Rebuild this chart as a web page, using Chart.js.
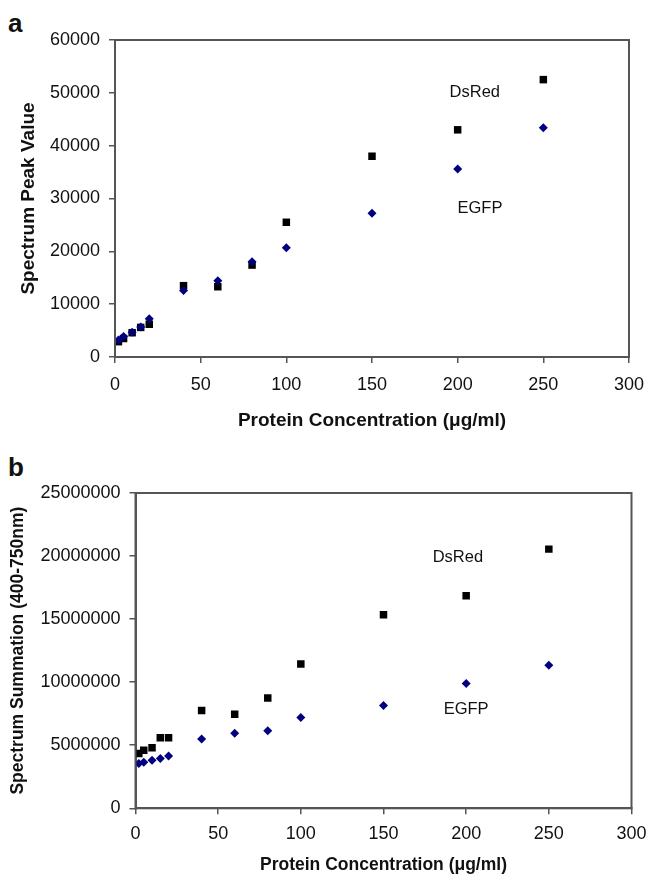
<!DOCTYPE html>
<html>
<head>
<meta charset="utf-8">
<script src="https://cdn.jsdelivr.net/npm/chart.js@4.4.0/dist/chart.umd.min.js"></script>
<style>
  body { margin: 0; background: #fff; width: 648px; height: 876px; position: relative; overflow: hidden; }
  canvas { position: absolute; left: 0; }
  #chartA { top: 0; }
  #chartB { top: 438px; }
  .panel { position: absolute; font: bold 26px "Liberation Sans", Arial, sans-serif; color: #111; }
</style>
</head>
<body>
<div class="panel" style="left:8px; top:8px;">a</div>
<div class="panel" style="left:8px; top:452px;">b</div>
<canvas id="chartA" width="648" height="438"></canvas>
<canvas id="chartB" width="648" height="438"></canvas>
<script>
// protein concentration (ug/ml)
const conc = [2, 5, 10, 15, 20, 40, 60, 80, 100, 150, 200, 250]

// panel a - spectrum peak value
const peakDsRed = [2900, 3500, 4600, 5600, 6200, 13500, 13300, 17400, 25500, 38000, 43000, 52500]
const peakEGFP = [3200, 3900, 4700, 5700, 7250, 12600, 14450, 18050, 20700, 27200, 35600, 43400]

// panel b - spectrum summation 400-750nm
const sumDsRed = [4350000, 4600000, 4800000, 5600000, 5600000, 7750000, 7450000, 8750000, 11450000, 15350000, 16850000, 20550000]
const sumEGFP = [3550000, 3650000, 3800000, 3950000, 4150000, 5500000, 5950000, 6150000, 7200000, 8150000, 9900000, 11350000]

const xTicks = [0, 50, 100, 150, 200, 250, 300]
const peakTicks = [0, 10000, 20000, 30000, 40000, 50000, 60000]
const sumTicks = [0, 5000000, 10000000, 15000000, 20000000, 25000000]

const labelsA = [{ text: 'DsRed', x: 210, y: 50000 }, { text: 'EGFP', x: 213, y: 28200 }]
const labelsB = [{ text: 'DsRed', x: 195, y: 19900000 }, { text: 'EGFP', x: 200, y: 7800000 }]

const FONT = '"Liberation Sans", Arial, sans-serif'
const AXIS = '#555'

function toPoints (xs, ys) {
  return xs.map((x, i) => ({ x: x, y: ys[i] }))
}

// box around the plot area + text labels placed by data coords
const framePlugin = {
  id: 'frame',
  afterDraw (chart, args, opts) {
    const { ctx, chartArea: a, scales } = chart
    ctx.save()
    ctx.strokeStyle = AXIS
    ctx.lineWidth = 2
    ctx.strokeRect(a.left, a.top, a.right - a.left, a.bottom - a.top)
    ctx.fillStyle = '#111'
    ctx.font = '16.5px ' + FONT
    ctx.textAlign = 'center'
    ctx.textBaseline = 'middle'
    opts.labels.forEach(l => {
      ctx.fillText(l.text, scales.x.getPixelForValue(l.x), scales.y.getPixelForValue(l.y))
    })
    ctx.restore()
  }
}

// no label overflow padding, the layout padding decides the plot box
function noPad (s) {
  s.paddingLeft = 0
  s.paddingRight = 0
  s.paddingTop = 0
  s.paddingBottom = 0
}

function makeChart (id, cfg) {
  return new Chart(document.getElementById(id), {
    type: 'scatter',
    data: {
      datasets: [{
        label: 'EGFP',
        data: toPoints(conc, cfg.egfp),
        pointStyle: 'rectRot',
        pointRadius: 4.5,
        backgroundColor: '#000080',
        borderColor: '#000080',
        borderWidth: 0
      }, {
        label: 'DsRed',
        data: toPoints(conc, cfg.dsred),
        pointStyle: 'rect',
        pointRadius: 5.3,
        backgroundColor: '#000',
        borderColor: '#000',
        borderWidth: 0
      }]
    },
    options: {
      responsive: false,
      animation: false,
      devicePixelRatio: 1,
      layout: { autoPadding: false, padding: cfg.padding },
      plugins: {
        legend: { display: false },
        tooltip: { enabled: false },
        frame: { labels: cfg.labels }
      },
      scales: {
        x: {
          type: 'linear',
          min: 0,
          max: 300,
          afterBuildTicks: s => { s.ticks = xTicks.map(v => ({ value: v })) },
          afterFit: s => { s.height = cfg.xHeight; noPad(s) },
          ticks: { color: '#111', font: { family: FONT, size: 18 }, padding: cfg.xPad, maxRotation: 0 },
          grid: { drawOnChartArea: false, tickLength: 6, color: AXIS, lineWidth: 1.5 },
          border: { color: AXIS, width: 2 },
          title: {
            display: true,
            text: 'Protein Concentration (μg/ml)',
            color: '#111',
            font: { family: FONT, size: cfg.titleSize, weight: 'bold' },
            padding: { top: 0, bottom: cfg.xTitlePad }
          }
        },
        y: {
          type: 'linear',
          min: 0,
          max: cfg.yMax,
          afterBuildTicks: s => { s.ticks = cfg.yTicks.map(v => ({ value: v })) },
          afterFit: s => { s.width = cfg.yWidth; noPad(s) },
          ticks: { color: '#111', font: { family: FONT, size: 18 }, padding: 9, callback: v => String(v) },
          grid: { drawOnChartArea: false, tickLength: 6, color: AXIS, lineWidth: 1.5 },
          border: { color: AXIS, width: 2 },
          title: {
            display: true,
            text: cfg.yTitle,
            color: '#111',
            font: { family: FONT, size: cfg.titleSize, weight: 'bold' },
            padding: { top: cfg.yTitlePad, bottom: 0 }
          }
        }
      }
    },
    plugins: [framePlugin]
  })
}

makeChart('chartA', {
  dsred: peakDsRed,
  egfp: peakEGFP,
  labels: labelsA,
  yMax: 60000,
  yTicks: peakTicks,
  yTitle: 'Spectrum Peak Value',
  titleSize: 19,
  padding: { top: 40, right: 19, left: 0, bottom: 0 },
  xHeight: 81,
  yWidth: 115,
  xPad: 11,
  xTitlePad: 5.6,
  yTitlePad: 17
})

makeChart('chartB', {
  dsred: sumDsRed,
  egfp: sumEGFP,
  labels: labelsB,
  yMax: 25000000,
  yTicks: sumTicks,
  yTitle: 'Spectrum Summation (400-750nm)',
  titleSize: 17.5,
  padding: { top: 55, right: 16.5, left: 0, bottom: 0 },
  xHeight: 67.7,
  yWidth: 135.5,
  xPad: 9,
  xTitlePad: 0.5,
  yTitlePad: 7.5
})
</script>
</body>
</html>
